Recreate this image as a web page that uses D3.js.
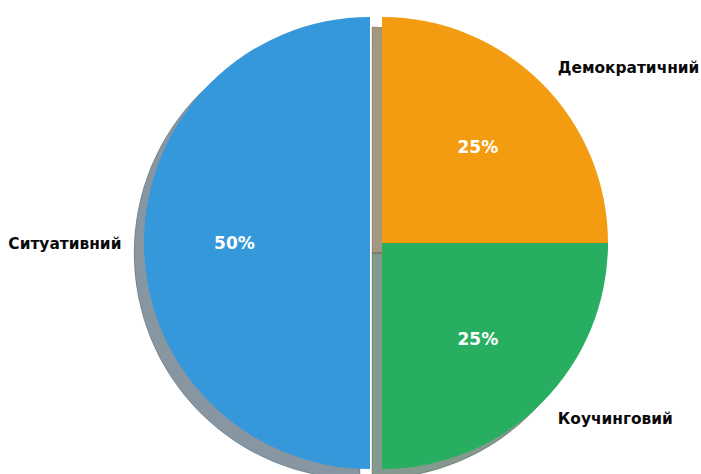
<!DOCTYPE html>
<html>
<head>
<meta charset="utf-8">
<script src="https://cdn.jsdelivr.net/npm/d3@7"></script>
<style>
  html, body { margin: 0; padding: 0; background: #ffffff; }
  svg { display: block; }
  text { font-family: "DejaVu Sans", sans-serif; font-weight: bold; }
</style>
</head>
<body>
<svg id="chart" width="701" height="474"></svg>
<script>
// Leadership styles and their shares (%)
const categories = ["Демократичний", "Коучинговий", "Ситуативний"];
const values = [25, 25, 50];
const colors = ["#f39c12", "#27ae60", "#3498db"];
const explode = [0, 0, 0.053];

const width = 701, height = 474;
const cx = 382, cy = 243, radius = 226;
const shadowDx = -10, shadowDy = 10;

const svg = d3.select("#chart");

// Clockwise from 12 o'clock, like startangle=90 with counterclock=False
const pie = d3.pie().sort(null).value(d => d.value).startAngle(0).endAngle(2 * Math.PI);
const arc = d3.arc().innerRadius(0).outerRadius(radius);

const data = categories.map((c, i) => ({ name: c, value: values[i], color: colors[i], explode: explode[i] }));
const arcs = pie(data);

const total = d3.sum(values);

// Offset of a wedge pushed out along its bisector
function offset(a) {
  const mid = (a.startAngle + a.endAngle) / 2;
  const d = a.data.explode * radius;
  return [d * Math.sin(mid), -d * Math.cos(mid)];
}

// Shadow colour: darkened face colour at half opacity
function shadowColor(c) {
  const rgb = d3.rgb(c);
  return d3.rgb(rgb.r * 0.3, rgb.g * 0.3, rgb.b * 0.3);
}

const g = svg.append("g").attr("transform", `translate(${cx},${cy})`);

// Shadows underneath all wedges
g.selectAll("path.shadow")
  .data(arcs)
  .join("path")
  .attr("class", "shadow")
  .attr("d", arc)
  .attr("transform", d => { const [ox, oy] = offset(d); return `translate(${ox + shadowDx},${oy + shadowDy})`; })
  .attr("fill", d => shadowColor(d.data.color))
  .attr("fill-opacity", 0.5)
  .attr("stroke", d => shadowColor(d.data.color))
  .attr("stroke-opacity", 0.25)
  .attr("stroke-width", 1);

// Wedges
g.selectAll("path.wedge")
  .data(arcs)
  .join("path")
  .attr("class", "wedge")
  .attr("d", arc)
  .attr("transform", d => { const [ox, oy] = offset(d); return `translate(${ox},${oy})`; })
  .attr("fill", d => d.data.color);

// Category labels at 1.1 r, aligned away from the centre
g.selectAll("text.cat")
  .data(arcs)
  .join("text")
  .attr("class", "cat")
  .attr("x", d => { const mid = (d.startAngle + d.endAngle) / 2; return offset(d)[0] + 1.1 * radius * Math.sin(mid); })
  .attr("y", d => { const mid = (d.startAngle + d.endAngle) / 2; return offset(d)[1] - 1.1 * radius * Math.cos(mid); })
  .attr("dy", "0.36em")
  .attr("text-anchor", d => { const mid = (d.startAngle + d.endAngle) / 2; return Math.sin(mid) >= 0 ? "start" : "end"; })
  .attr("font-size", 15.4)
  .attr("fill", "#0a0a0a")
  .text(d => d.data.name);

// Percentage labels at 0.6 r
g.selectAll("text.pct")
  .data(arcs)
  .join("text")
  .attr("class", "pct")
  .attr("x", d => { const mid = (d.startAngle + d.endAngle) / 2; return offset(d)[0] + 0.6 * radius * Math.sin(mid); })
  .attr("y", d => { const mid = (d.startAngle + d.endAngle) / 2; return offset(d)[1] - 0.6 * radius * Math.cos(mid); })
  .attr("dy", "0.36em")
  .attr("text-anchor", "middle")
  .attr("font-size", 17)
  .attr("fill", "#ffffff")
  .text(d => `${Math.round(d.data.value / total * 100)}%`);
</script>
</body>
</html>
